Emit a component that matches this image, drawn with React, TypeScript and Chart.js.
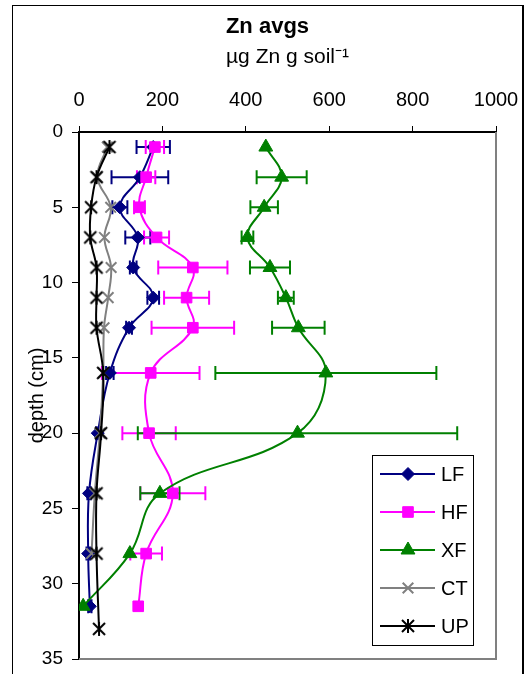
import React, { useEffect, useRef } from "react";
import { Chart, registerables } from "chart.js";
import { drawPoint } from "chart.js/helpers";

Chart.register(...registerables);

const seriesLabels = ["LF", "HF", "XF", "CT", "UP"];
const seriesColors = ["#000080", "#FF00FF", "#008000", "#808080", "#000000"];
const seriesMarkers = ["rectRot", "rect", "triangle", "crossRot", "asterisk"];
const seriesRadius = [6.5, 7.5, 8, 7.5, 7];

const depthsLF = [1, 3, 5, 7, 9, 11, 13, 16, 20, 24, 28, 31.5];
const valuesLF = [178, 146, 98, 141, 130, 178, 120, 74, 45, 24, 22, 26];
const errorsLF = [40, 68, 18, 30, 8, 14, 7, 9, 4, 4, 4, 4];

const depthsHF = [1, 3, 5, 7, 9, 11, 13, 16, 20, 24, 28, 31.5];
const valuesHF = [182, 161, 145, 186, 273, 258, 273, 172, 168, 225, 161, 142];
const errorsHF = [22, 22, 13, 30, 83, 54, 99, 117, 64, 78, 38, 0];

const depthsXF = [1, 3, 5, 7, 9, 11, 13, 16, 20, 24, 28, 31.5];
const valuesXF = [448, 486, 444, 404, 458, 496, 526, 592, 524, 194, 122, 10];
const errorsXF = [0, 60, 33, 14, 48, 19, 63, 265, 383, 47, 0, 0];

const depthsCT = [1, 3, 5, 7, 9, 11, 13, 16, 20, 24, 28];
const valuesCT = [68, 44, 76, 61, 77, 70, 60, 58, 50, 38, 30];

const depthsUP = [1, 3, 5, 7, 9, 11, 13, 16, 20, 24, 28, 33];
const valuesUP = [73, 42, 29, 27, 42, 42, 42, 58, 53, 42, 42, 48];

const xTicks = [0, 200, 400, 600, 800, 1000];
const yTicks = [0, 5, 10, 15, 20, 25, 30, 35];

const FONT = "'Liberation Sans', Arial, sans-serif";

function pts(depths: number[], values: number[]) {
  return depths.map((d, i) => ({ x: values[i], y: d }));
}

function makeAsterisk(color: string) {
  const c = document.createElement("canvas");
  c.width = 16;
  c.height = 16;
  const g = c.getContext("2d")!;
  g.strokeStyle = color;
  g.lineWidth = 2;
  g.lineCap = "butt";
  g.beginPath();
  g.moveTo(2, 2);
  g.lineTo(14, 14);
  g.moveTo(14, 2);
  g.lineTo(2, 14);
  g.moveTo(8, 1);
  g.lineTo(8, 15);
  g.stroke();
  return c;
}

const errorBarPlugin = {
  id: "errorBars",
  beforeDatasetsDraw(chart: any) {
    const ctx = chart.ctx;
    const xs = chart.scales.x;
    const ys = chart.scales.y;
    const area = chart.chartArea;
    ctx.save();
    ctx.strokeStyle = "#808080";
    ctx.lineWidth = 2;
    ctx.beginPath();
    ctx.moveTo(area.right, area.top);
    ctx.lineTo(area.right, area.bottom);
    ctx.lineTo(area.left, area.bottom);
    ctx.stroke();
    chart.data.datasets.forEach((ds: any) => {
      const errs: number[] | undefined = ds.errors;
      if (!errs) return;
      ctx.strokeStyle = ds.borderColor;
      ctx.lineWidth = 2;
      ds.data.forEach((p: any, i: number) => {
        const e = errs[i];
        if (!e) return;
        const y = ys.getPixelForValue(p.y);
        const x1 = xs.getPixelForValue(p.x - e);
        const x2 = xs.getPixelForValue(p.x + e);
        ctx.beginPath();
        ctx.moveTo(x1, y);
        ctx.lineTo(x2, y);
        ctx.moveTo(x1, y - 7);
        ctx.lineTo(x1, y + 7);
        ctx.moveTo(x2, y - 7);
        ctx.lineTo(x2, y + 7);
        ctx.stroke();
      });
    });
    ctx.restore();
  },
};

const legendPlugin = {
  id: "customLegend",
  afterDraw(chart: any) {
    const ctx = chart.ctx;
    const area = chart.chartArea;
    const boxRight = area.right - 23;
    const boxBottom = area.bottom - 14;
    const boxW = 101;
    const boxH = 190;
    const boxLeft = boxRight - boxW;
    const boxTop = boxBottom - boxH;
    ctx.save();
    ctx.fillStyle = "#ffffff";
    ctx.fillRect(boxLeft, boxTop, boxW, boxH);
    ctx.strokeStyle = "#000000";
    ctx.lineWidth = 1;
    ctx.strokeRect(boxLeft + 0.5, boxTop + 0.5, boxW, boxH);
    chart.data.datasets.forEach((ds: any, i: number) => {
      const y = boxTop + 19 + i * 38;
      ctx.strokeStyle = ds.borderColor;
      ctx.lineWidth = 2;
      ctx.beginPath();
      ctx.moveTo(boxLeft + 8, y);
      ctx.lineTo(boxLeft + 63, y);
      ctx.stroke();
      ctx.fillStyle = ds.pointBackgroundColor;
      ctx.strokeStyle = ds.pointBorderColor;
      ctx.lineWidth = ds.pointBorderWidth;
      drawPoint(
        ctx,
        {
          pointStyle: ds.pointStyle,
          radius: ds.pointRadius,
          borderWidth: ds.pointBorderWidth,
          rotation: 0,
        } as any,
        boxLeft + 36,
        y
      );
      ctx.fillStyle = "#000000";
      ctx.font = `20px ${FONT}`;
      ctx.textAlign = "left";
      ctx.textBaseline = "middle";
      ctx.fillText(ds.label, boxLeft + 69, y + 1);
    });
    ctx.restore();
  },
};

export default function App() {
  const ref = useRef<HTMLCanvasElement | null>(null);

  useEffect(() => {
    if (!ref.current) return;
    document.body.style.overflow = "hidden";
    const depthSets = [depthsLF, depthsHF, depthsXF, depthsCT, depthsUP];
    const valueSets = [valuesLF, valuesHF, valuesXF, valuesCT, valuesUP];
    const errorSets = [errorsLF, errorsHF, errorsXF, undefined, undefined];
    const datasets = seriesLabels.map((label, i) => ({
      label,
      data: pts(depthSets[i], valueSets[i]),
      errors: errorSets[i],
      showLine: true,
      tension: 0.4,
      borderColor: seriesColors[i],
      borderWidth: 2,
      pointStyle:
        seriesMarkers[i] === "asterisk"
          ? makeAsterisk(seriesColors[i])
          : seriesMarkers[i],
      pointRadius: seriesRadius[i],
      pointBackgroundColor: seriesColors[i],
      pointBorderColor: seriesColors[i],
      pointBorderWidth: i >= 3 ? 2 : 1,
      order: 5 - i,
    }));
    const chart = new Chart(ref.current, {
      type: "scatter",
      data: { datasets } as any,
      plugins: [errorBarPlugin, legendPlugin],
      options: {
        responsive: false,
        animation: false,
        layout: { padding: { left: 0, right: 0, top: 0, bottom: 15 } },
        plugins: {
          legend: { display: false },
          tooltip: { enabled: false },
          title: {
            display: true,
            text: "Zn avgs",
            color: "#000",
            font: { family: FONT, size: 22, weight: "bold" },
            padding: { top: 8, bottom: 0 },
          },
        },
        scales: {
          x: {
            type: "linear",
            position: "top",
            min: 0,
            max: 1000,
            afterBuildTicks(scale: any) {
              scale.ticks = xTicks.map((v) => ({ value: v }));
            },
            afterFit(scale: any) {
              scale.height = 91.6;
              scale.paddingLeft = 0;
              scale.paddingRight = 26;
            },
            ticks: {
              color: "#000",
              font: { family: FONT, size: 20 },
              padding: 14,
              callback: (v: any) => String(v),
            },
            grid: {
              drawOnChartArea: false,
              drawTicks: true,
              tickLength: 6,
              color: "#000",
              lineWidth: 1,
            },
            border: { color: "#000", width: 2 },
            title: {
              display: true,
              text: "µg Zn g soil⁻¹",
              color: "#000",
              font: { family: FONT, size: 21 },
              padding: { top: 4, bottom: 0 },
            },
          },
          y: {
            type: "linear",
            position: "left",
            reverse: true,
            min: 0,
            max: 35,
            afterBuildTicks(scale: any) {
              scale.ticks = yTicks.map((v) => ({ value: v }));
            },
            afterFit(scale: any) {
              scale.width = 66;
              scale.paddingTop = 0;
              scale.paddingBottom = 0;
            },
            ticks: {
              color: "#000",
              font: { family: FONT, size: 19 },
              padding: 9,
              callback: (v: any) => String(v),
            },
            grid: {
              drawOnChartArea: false,
              drawTicks: true,
              tickLength: 7,
              color: "#000",
              lineWidth: 1,
            },
            border: { color: "#000", width: 2 },
            title: {
              display: true,
              text: "depth (cm)",
              color: "#000",
              font: { family: FONT, size: 20 },
              padding: { top: 12, bottom: 0 },
            },
          },
        },
      } as any,
    });
    return () => chart.destroy();
  }, []);

  return (
    <div
      style={{
        position: "absolute",
        left: 12,
        top: 5,
        width: 509,
        height: 669,
        borderLeft: "1px solid #000",
        borderTop: "1px solid #000",
        borderRight: "2px solid #000",
        background: "#fff",
      }}
    >
      <canvas ref={ref} width={509} height={668} style={{ display: "block" }} />
    </div>
  );
}
